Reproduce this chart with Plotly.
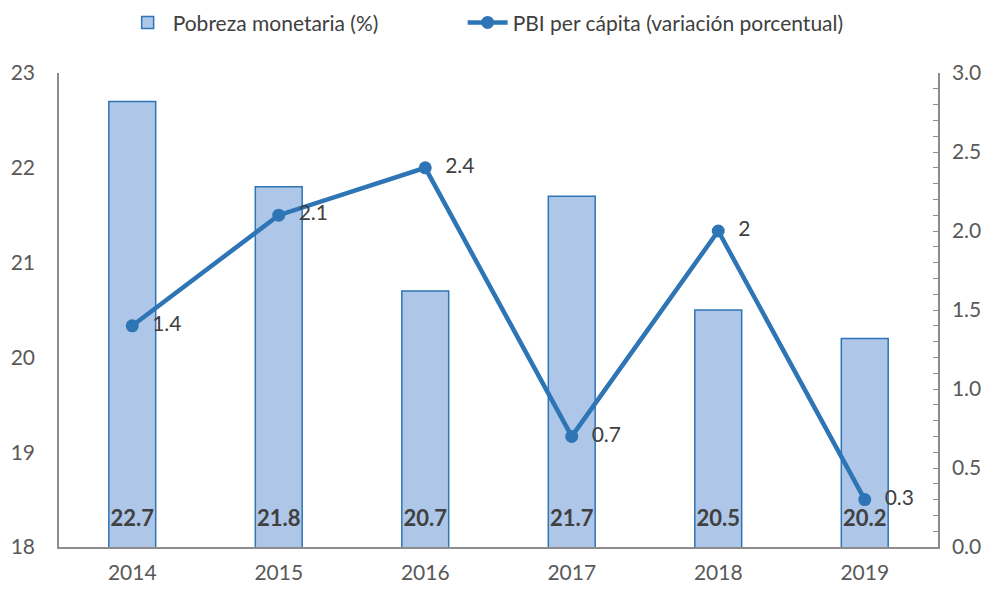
import plotly.graph_objects as go

years = ["2014", "2015", "2016", "2017", "2018", "2019"]
pobreza = [22.7, 21.8, 20.7, 21.7, 20.5, 20.2]
pbi_pc = [1.4, 2.1, 2.4, 0.7, 2, 0.3]

azul = "#2E75B6"
gris = "#595959"
fuente = "Lato, Open Sans, sans-serif"

fig = go.Figure()

# Barras: pobreza monetaria (eje izquierdo)
fig.add_trace(
    go.Bar(
        x=years,
        y=pobreza,
        name="Pobreza monetaria (%)",
        marker=dict(color="#AEC6E7", line=dict(color=azul, width=1.5)),
        width=0.32,
        legend="legend",
    )
)

# Etiquetas de las barras, sobre la base
fig.add_trace(
    go.Scatter(
        x=years,
        y=[18.28] * len(years),
        mode="text",
        text=[f"{v:.1f}" for v in pobreza],
        textfont=dict(size=22, color="#404040", family=fuente, weight="bold"),
        showlegend=False,
        hoverinfo="skip",
    )
)

# Linea: PBI per cápita (eje derecho)
fig.add_trace(
    go.Scatter(
        x=years,
        y=pbi_pc,
        name="PBI per cápita (variación porcentual)",
        mode="lines+markers+text",
        line=dict(color=azul, width=4.5),
        marker=dict(color=azul, size=13),
        text=["  " + str(v) for v in pbi_pc],
        textposition="middle right",
        textfont=dict(size=21, color="#404040", family=fuente),
        yaxis="y2",
        cliponaxis=False,
        legend="legend2",
    )
)

leyenda = dict(
    orientation="h",
    xref="container",
    xanchor="left",
    yref="container",
    y=0.975,
    yanchor="middle",
    font=dict(size=21, color="#404040"),
    itemwidth=40,
)

fig.update_layout(
    width=997,
    height=590,
    margin=dict(l=51, r=67, t=65, b=51, autoexpand=False),
    plot_bgcolor="white",
    paper_bgcolor="white",
    font=dict(family=fuente, size=21, color=gris),
    legend=dict(leyenda, x=0.115),
    legend2=dict(leyenda, x=0.456),
    xaxis=dict(
        showline=True,
        linecolor="#8C8C8C",
        linewidth=1.5,
        ticks="",
        showgrid=False,
        ticklabelstandoff=6,
        tickfont=dict(size=21, color=gris),
    ),
    yaxis=dict(
        range=[18, 23],
        dtick=1,
        showline=True,
        linecolor="#8C8C8C",
        linewidth=1.5,
        showgrid=False,
        ticks="",
        ticklabelstandoff=18,
        tickfont=dict(size=21, color=gris),
    ),
    yaxis2=dict(
        range=[0, 3],
        dtick=0.5,
        tickformat=".1f",
        overlaying="y",
        side="right",
        showline=True,
        linecolor="#8C8C8C",
        linewidth=1.5,
        showgrid=False,
        ticks="inside",
        ticklen=5,
        tickcolor="#8C8C8C",
        ticklabelstandoff=8,
        minor=dict(dtick=0.1, ticks="inside", ticklen=5, tickcolor="#8C8C8C"),
        tickfont=dict(size=21, color=gris),
    ),
)

fig.write_html("out.html")
